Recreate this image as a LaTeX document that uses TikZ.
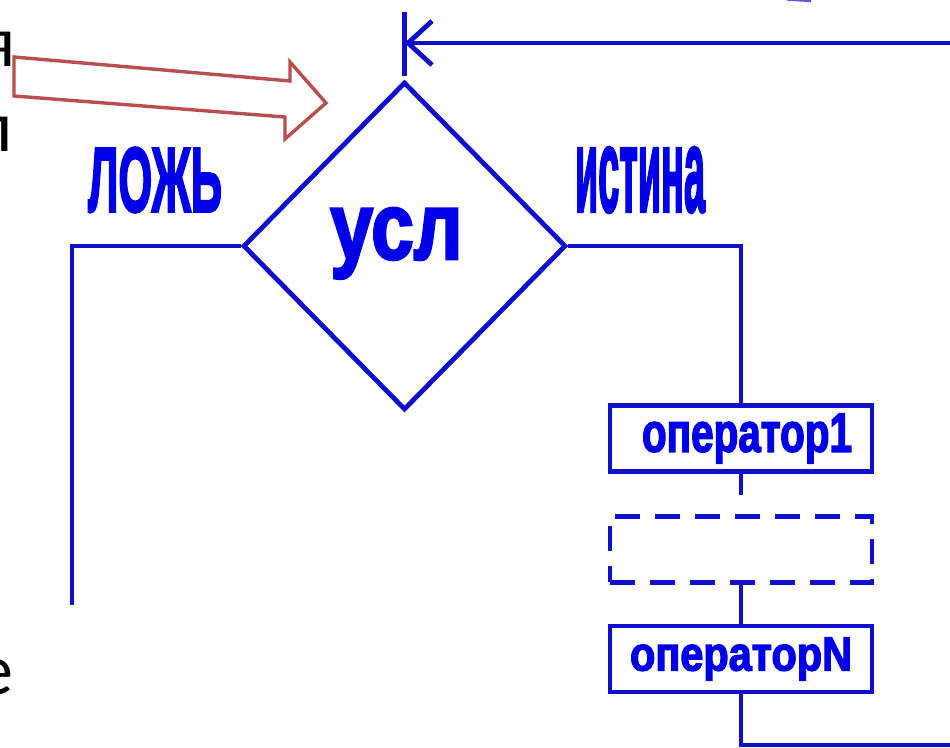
\documentclass[tikz,border=0pt]{standalone}
\usepackage{fontspec}
\usepackage{graphicx}
\setmainfont{Carlito}
\newfontfamily\heavyfont[FakeBold=3]{Liberation Sans}
\usetikzlibrary{shapes.geometric,arrows.meta}

\definecolor{flowblue}{RGB}{16,16,204}
\definecolor{labelblue}{RGB}{0,0,232}
\definecolor{hintred}{RGB}{184,78,78}

\tikzset{
  flow/.style={draw=flowblue, line width=2.4pt},
  opbox/.style={flow, rectangle, minimum width=131pt, minimum height=33pt,
    inner sep=0pt, text=labelblue, font=\heavyfont\bfseries},
  gapbox/.style={opbox, dash pattern=on 12.5pt off 7.5pt},
  condbox/.style={flow, diamond, minimum width=161.5pt, minimum height=164pt,
    inner sep=0pt},
  lbl/.style={inner sep=0pt, text=labelblue, font=\heavyfont\bfseries},
  frag/.style={inner sep=0pt, text=black, font=\fontsize{36}{40}\selectfont},
  loopback/.style={flow, -{Straight Barb[length=12pt, width=22pt]}}
}

\begin{document}
\begin{tikzpicture}[x=0.5pt, y=-0.5pt]
  \clip (0,0) rectangle (950,748);
  \fill[white] (0,0) rectangle (950,748);

  % fragments of surrounding text at the left edge
  \node[frag, anchor=base east] (fragya) at (16,67) {я};
  \node[frag, anchor=base east] (fragl) at (13,152) {л};
  \node[frag, anchor=base east] (fragdot) at (3,406) {.};
  \node[frag, anchor=base east] (frage) at (14,695) {е};

  % small piece of a shape at the top edge
  \draw[flowblue!70, line width=1.2pt] (787,-0.5) -- (811,1);

  % hollow pointer arrow
  \draw[hintred, line width=1.7pt, fill=white, line join=miter]
    (14,57) -- (290,81) -- (290,62) -- (326,103) -- (285,139)
    -- (285,117) -- (14,96) -- cycle;

  % condition
  \node[condbox] (cond) at (404.5,246) {};
  \node[lbl, anchor=base west] (condlbl) at (330,259)
    {\resizebox{66pt}{25.5pt}{усл}};

  % branch labels
  \node[lbl] (falselbl) at (155,180) {\resizebox{67pt}{32pt}{ЛОЖЬ}};
  \node[lbl] (truelbl) at (640,180) {\resizebox{65pt}{32pt}{истина}};

  % body of the loop
  \node[opbox] (op1) at (741,438.5)
    {\hspace*{6pt}\resizebox{105pt}{19pt}{оператор1}};
  \node[gapbox] (gap) at (741,549.5) {};
  \node[opbox] (opN) at (741,659)
    {\raisebox{-2pt}{\resizebox{111pt}{16.5pt}{операторN}}};

  % entry and return line
  \coordinate (entry) at (404.5,12);
  \coordinate (entryend) at (404.5,76);
  \coordinate (join) at (404.5,43);
  \coordinate (loopin) at (960,43);
  \coordinate (loopout) at (960,745);
  \draw[flow] (entry) -- (entryend);
  \draw[loopback] (loopin) -- (join);

  % false branch
  \coordinate (falseturn) at (72,246);
  \coordinate (falseend) at (72,605);
  \draw[flow] (cond.west) -- (falseturn) -- (falseend);

  % true branch
  \coordinate (op1stub) at (741,495);
  \draw[flow] (cond.east) -| (op1.north);
  \draw[flow] (op1.south) -- (op1stub);
  \draw[flow] (gap.south) -- (opN.north);
  \draw[flow] (opN.south) |- (loopout);
\end{tikzpicture}
\end{document}
